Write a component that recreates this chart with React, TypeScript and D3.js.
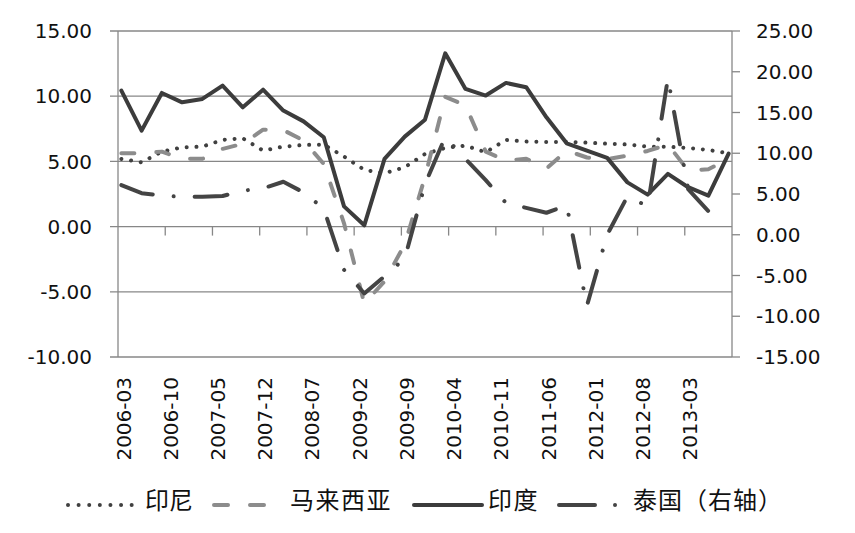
import React from "react";
import * as d3 from "d3";

// Quarterly observations
const quarters = [
  "2006-03", "2006-06", "2006-09", "2006-12",
  "2007-03", "2007-06", "2007-09", "2007-12",
  "2008-03", "2008-06", "2008-09", "2008-12",
  "2009-03", "2009-06", "2009-09", "2009-12",
  "2010-03", "2010-06", "2010-09", "2010-12",
  "2011-03", "2011-06", "2011-09", "2011-12",
  "2012-03", "2012-06", "2012-09", "2012-12",
  "2013-03", "2013-06", "2013-09",
];

const indonesia = [
  5.19, 4.93, 5.75, 6.08, 6.13, 6.65, 6.77, 5.83, 6.13, 6.26, 6.29,
  5.37, 4.35, 4.09, 4.55, 5.57, 6.03, 6.21, 5.7, 6.65, 6.52, 6.49,
  6.5, 6.44, 6.36, 6.3, 6.13, 6.13, 6.03, 5.88, 5.62,
];
const malaysia = [
  5.62, 5.62, 5.75, 5.2, 5.2, 5.96, 6.35, 7.43, 7.4, 6.6, 4.8,
  0.25, -5.9, -4.2, -1.35, 3.8, 9.95, 9.3, 5.75, 5.06, 5.2, 4.45,
  5.83, 5.3, 5.18, 5.44, 5.8, 6.3, 4.3, 4.4, 5.2,
];
const india = [
  10.43, 7.36, 10.25, 9.53, 9.79, 10.81, 9.15, 10.5, 8.9, 8.07, 6.85,
  1.55, 0.1, 5.19, 6.9, 8.2, 13.29, 10.56, 10.05, 11.02, 10.69, 8.38,
  6.39, 5.83, 5.27, 3.39, 2.45, 4.04, 3.02, 2.38, 5.6,
];
// right axis
const thailand = [
  6.1, 5.1, 4.8, 4.65, 4.65, 4.75, 5.4, 5.7, 6.5, 5.2, 3.2,
  -4.3, -7.2, -5.1, -2.9, 6.2, 12.0, 9.3, 6.7, 3.9, 3.3, 2.7,
  3.6, -8.7, 0.0, 4.7, 3.5, 19.2, 5.6, 2.9, 2.6,
];

const xTickLabels = [
  "2006-03", "2006-10", "2007-05", "2007-12", "2008-07", "2009-02", "2009-09",
  "2010-04", "2010-11", "2011-06", "2012-01", "2012-08", "2013-03",
];
const leftTicks = [15, 10, 5, 0, -5, -10];
const rightTicks = [25, 20, 15, 10, 5, 0, -5, -10, -15];

const legendNames = ["印尼", "马来西亚", "印度", "泰国（右轴）"];

const monthIndex = (s: string) => {
  const [y, m] = s.split("-").map(Number);
  return (y - 2006) * 12 + (m - 3);
};

export default function App() {
  const left = 118;
  const right = 732;
  const top = 31;
  const bottom = 357;

  const nMonths = monthIndex("2013-09") + 1;
  const x = d3
    .scaleBand<number>()
    .domain(d3.range(nMonths))
    .range([left, right])
    .padding(0);
  const bw = x.bandwidth();
  const xc = (s: string) => (x(monthIndex(s)) as number) + bw / 2;

  const yL = d3.scaleLinear().domain([-10, 15]).range([bottom, top]);
  const yR = d3.scaleLinear().domain([-15, 25]).range([bottom, top]);

  const lineL = d3
    .line<number>()
    .x((_, i) => xc(quarters[i]))
    .y((d) => yL(d));
  const lineR = d3
    .line<number>()
    .x((_, i) => xc(quarters[i]))
    .y((d) => yR(d));

  const gridColor = "#878787";
  const numFont = "'DejaVu Sans', sans-serif";
  const cjkFont = "'Noto Sans CJK SC', sans-serif";
  const dark = "#404040";
  const gray = "#8c8c8c";

  const legendY = 505;
  const textY = 500;

  return (
    <svg
      width={855}
      height={533}
      style={{ position: "absolute", left: 0, top: 0, background: "#fff" }}
    >
      {/* gridlines + left ticks */}
      {leftTicks.map((t) => (
        <g key={"gl" + t}>
          <line
            x1={left - 8}
            x2={right}
            y1={yL(t)}
            y2={yL(t)}
            stroke={gridColor}
            strokeWidth={1.3}
          />
          <text
            x={92}
            y={yL(t)}
            dy="0.36em"
            textAnchor="end"
            fontFamily={numFont}
            fontSize={20}
            fill="#111"
          >
            {t.toFixed(2)}
          </text>
        </g>
      ))}
      {/* left axis line */}
      <line x1={left} x2={left} y1={top} y2={bottom} stroke={gridColor} strokeWidth={1.3} />
      {/* right axis */}
      <line x1={right} x2={right} y1={top} y2={bottom} stroke={gridColor} strokeWidth={1.3} />
      {rightTicks.map((t) => (
        <g key={"gr" + t}>
          <line
            x1={right}
            x2={right + 8}
            y1={yR(t)}
            y2={yR(t)}
            stroke={gridColor}
            strokeWidth={1.3}
          />
          <text
            x={756}
            y={yR(t)}
            dy="0.36em"
            textAnchor="start"
            fontFamily={numFont}
            fontSize={20}
            fill="#111"
          >
            {t.toFixed(2)}
          </text>
        </g>
      ))}
      {/* x axis ticks at zero */}
      {xTickLabels.map((lab, k) =>
        k === 0 ? null : (
          <line
            key={"xt" + lab}
            x1={x(monthIndex(lab)) as number}
            x2={x(monthIndex(lab)) as number}
            y1={yL(0)}
            y2={yL(0) + 9}
            stroke={gridColor}
            strokeWidth={1.3}
          />
        )
      )}
      {xTickLabels.map((lab) => (
        <text
          key={"xl" + lab}
          transform={`translate(${xc(lab) + 2},377) rotate(-90)`}
          dy="0.36em"
          textAnchor="end"
          fontFamily={numFont}
          fontSize={20}
          fill="#111"
        >
          {lab}
        </text>
      ))}

      {/* series */}
      <path
        d={lineL(indonesia) || ""}
        fill="none"
        stroke={dark}
        strokeWidth={4}
        strokeLinecap="round"
        strokeLinejoin="round"
        strokeDasharray="0.01 9.8"
      />
      <path
        d={lineL(malaysia) || ""}
        fill="none"
        stroke={gray}
        strokeWidth={4}
        strokeLinecap="round"
        strokeLinejoin="round"
        strokeDasharray="13 22"
      />
      <path
        d={lineL(india) || ""}
        fill="none"
        stroke="#3c3c3c"
        strokeWidth={4}
        strokeLinecap="round"
        strokeLinejoin="round"
      />
      <path
        d={lineR(thailand) || ""}
        fill="none"
        stroke="#444"
        strokeWidth={4}
        strokeLinecap="round"
        strokeLinejoin="round"
        strokeDasharray="33 21 0.01 21"
      />

      {/* legend */}
      <line
        x1={68}
        x2={132}
        y1={legendY}
        y2={legendY}
        stroke={dark}
        strokeWidth={4}
        strokeLinecap="round"
        strokeDasharray="0.01 10.6"
      />
      <text x={145} y={textY} dy="0.36em" fontFamily={cjkFont} fontSize={24} fill="#111">
        {legendNames[0]}
      </text>
      <line
        x1={214}
        x2={268}
        y1={legendY}
        y2={legendY}
        stroke={gray}
        strokeWidth={4}
        strokeLinecap="round"
        strokeDasharray="14 22"
      />
      <text x={290} y={textY} dy="0.36em" fontFamily={cjkFont} fontSize={24} fill="#111" letterSpacing={1.5}>
        {legendNames[1]}
      </text>
      <line
        x1={414}
        x2={482}
        y1={legendY}
        y2={legendY}
        stroke="#3c3c3c"
        strokeWidth={4}
        strokeLinecap="round"
      />
      <text x={488} y={textY} dy="0.36em" fontFamily={cjkFont} fontSize={24} fill="#111" letterSpacing={1.5}>
        {legendNames[2]}
      </text>
      <line
        x1={559}
        x2={616}
        y1={legendY}
        y2={legendY}
        stroke="#444"
        strokeWidth={4}
        strokeLinecap="round"
        strokeDasharray="36 20 0.01 30"
      />
      <text x={633} y={textY} dy="0.36em" fontFamily={cjkFont} fontSize={24} fill="#111" letterSpacing={1}>
        {legendNames[3]}
      </text>
    </svg>
  );
}
